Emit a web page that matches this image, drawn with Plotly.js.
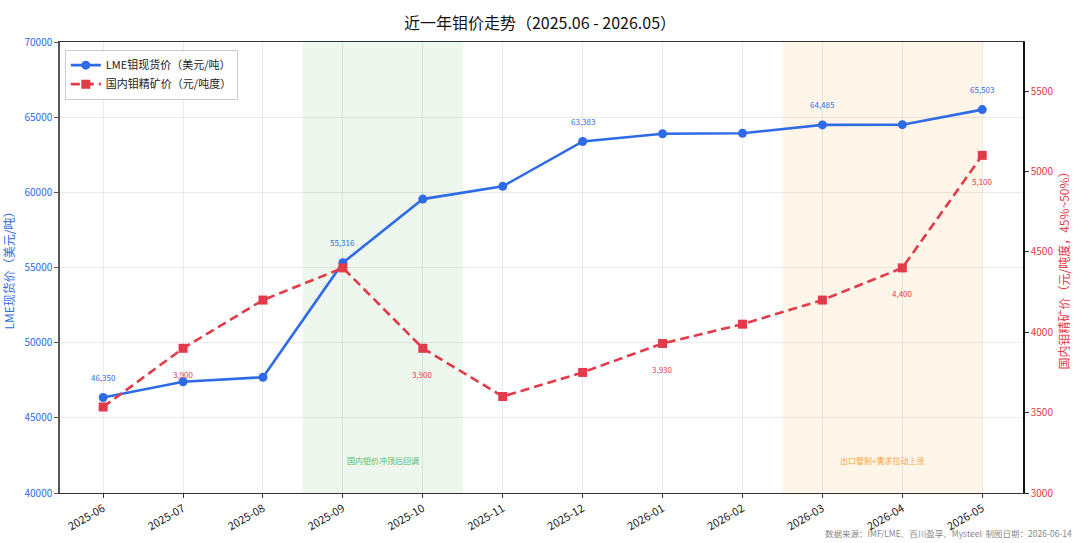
<!DOCTYPE html>
<html><head><meta charset="utf-8">
<script src="https://cdn.plot.ly/plotly-3.0.1.min.js"></script>
<style>html,body{margin:0;padding:0;background:#fff}#chart{width:1080px;height:543px}</style>
</head><body><div id="chart"></div>
<script>
const months = ['2025-06','2025-07','2025-08','2025-09','2025-10','2025-11','2025-12','2026-01','2026-02','2026-03','2026-04','2026-05'];
const lmePrice = [46350, 47400, 47700, 55316, 59550, 60400, 63383, 63900, 63930, 64485, 64500, 65503];
const concPrice = [3535, 3900, 4200, 4400, 3900, 3600, 3750, 3930, 4050, 4200, 4400, 5100];
const lmeLabelIdx = [0, 3, 6, 9, 11];
const concLabelIdx = [1, 4, 7, 10, 11];
const leftTicks = [40000, 45000, 50000, 55000, 60000, 65000, 70000];
const rightTicks = [3000, 3500, 4000, 4500, 5000, 5500];
const bands = [
  {from: 2.5, to: 4.5, fill: 'rgba(76,175,80,0.10)', text: '国内钼价冲顶后回调', color: '#5cb85c'},
  {from: 8.5, to: 11.0, fill: 'rgba(255,167,38,0.10)', text: '出口管制+需求拉动上涨', color: '#f5a33c'}
];

const BLUE = '#2f6be6';
const RED = '#e23a48';
const FONT = '"Noto Sans CJK SC", "Noto Sans", sans-serif';
const idx = months.map((m, i) => i);
const fmt = v => v.toLocaleString('en-US');

const traces = [
  {x: idx, y: lmePrice, type: 'scatter', mode: 'lines+markers', name: 'LME钼现货价（美元/吨）',
   line: {color: BLUE, width: 2.6}, marker: {color: BLUE, size: 9, symbol: 'circle'}, yaxis: 'y'},
  {x: idx, y: concPrice, type: 'scatter', mode: 'lines+markers', name: '国内钼精矿价（元/吨度）',
   line: {color: RED, width: 2.6, dash: '9px,5px'}, marker: {color: RED, size: 9, symbol: 'square'}, yaxis: 'y2'}
];

const annotations = [];
lmeLabelIdx.forEach(i => annotations.push({x: i, y: lmePrice[i], xref: 'x', yref: 'y', text: fmt(lmePrice[i]),
  showarrow: false, yshift: 20, font: {family: FONT, size: 8, color: BLUE}}));
concLabelIdx.forEach(i => annotations.push({x: i, y: concPrice[i], xref: 'x', yref: 'y2', text: fmt(concPrice[i]),
  showarrow: false, yshift: -26, font: {family: FONT, size: 8, color: RED}}));
bands.forEach(b => annotations.push({x: (b.from + b.to) / 2, y: 0.055, xref: 'x', yref: 'paper', text: b.text,
  showarrow: false, font: {family: FONT, size: 8, color: b.color}}));
annotations.push({x: 1, y: 0, xref: 'paper', yref: 'paper', xanchor: 'right', yanchor: 'bottom',
  text: '数据来源：IMF/LME、百川盈孚、Mysteel  制图日期：2026-06-14', showarrow: false,
  xshift: 51, yshift: -48, font: {family: FONT, size: 8.5, color: '#888'}});

const shapes = bands.map(b => ({type: 'rect', xref: 'x', yref: 'paper', x0: b.from, x1: b.to, y0: 0, y1: 1,
  fillcolor: b.fill, line: {width: 0}, layer: 'below'}));

const layout = {
  width: 1080, height: 543,
  margin: {l: 60, r: 57, t: 42, b: 50},
  paper_bgcolor: '#fff', plot_bgcolor: '#fff',
  font: {family: FONT, size: 10, color: '#222'},
  title: {text: '近一年钼价走势（2025.06 - 2026.05）', x: 0.5, xanchor: 'center', y: 0.968,
          font: {family: FONT, size: 16, color: '#111'}},
  showlegend: true,
  legend: {x: 0.005, y: 0.983, xanchor: 'left', yanchor: 'top', bgcolor: 'rgba(255,255,255,0.9)',
           bordercolor: '#ccc', borderwidth: 1, font: {family: FONT, size: 11, color: '#222'}, tracegroupgap: 2},
  xaxis: {range: [-0.54, 11.51], tickmode: 'array', tickvals: idx, ticktext: months, tickangle: -30,
          showgrid: true, gridcolor: 'rgba(0,0,0,0.08)', zeroline: false,
          showline: true, linecolor: '#333', linewidth: 1.2, mirror: true,
          ticks: 'outside', ticklen: 4, tickcolor: '#333', tickfont: {family: FONT, size: 11, color: '#222'}},
  yaxis: {range: [40000, 70000], tickmode: 'array', tickvals: leftTicks, ticktext: leftTicks.map(String),
          showgrid: true, gridcolor: 'rgba(0,0,0,0.08)', zeroline: false,
          showline: true, linecolor: '#555', linewidth: 1.5,
          ticks: 'outside', ticklen: 4, tickcolor: '#555', tickfont: {family: FONT, size: 10, color: BLUE},
          title: {text: 'LME现货价（美元/吨）', font: {family: FONT, size: 12, color: BLUE}, standoff: 8}},
  yaxis2: {range: [3000, 5805], overlaying: 'y', side: 'right', tickmode: 'array', tickvals: rightTicks,
           ticktext: rightTicks.map(String), showgrid: false, zeroline: false,
           showline: true, linecolor: '#111', linewidth: 1.5,
           ticks: 'outside', ticklen: 4, tickcolor: '#333', tickfont: {family: FONT, size: 10, color: RED},
           title: {text: '国内钼精矿价（元/吨度，45%~50%）', font: {family: FONT, size: 12, color: RED}, standoff: 8}},
  shapes: shapes,
  annotations: annotations
};

Plotly.newPlot('chart', traces, layout, {displayModeBar: false, responsive: false});
</script>
</body></html>
